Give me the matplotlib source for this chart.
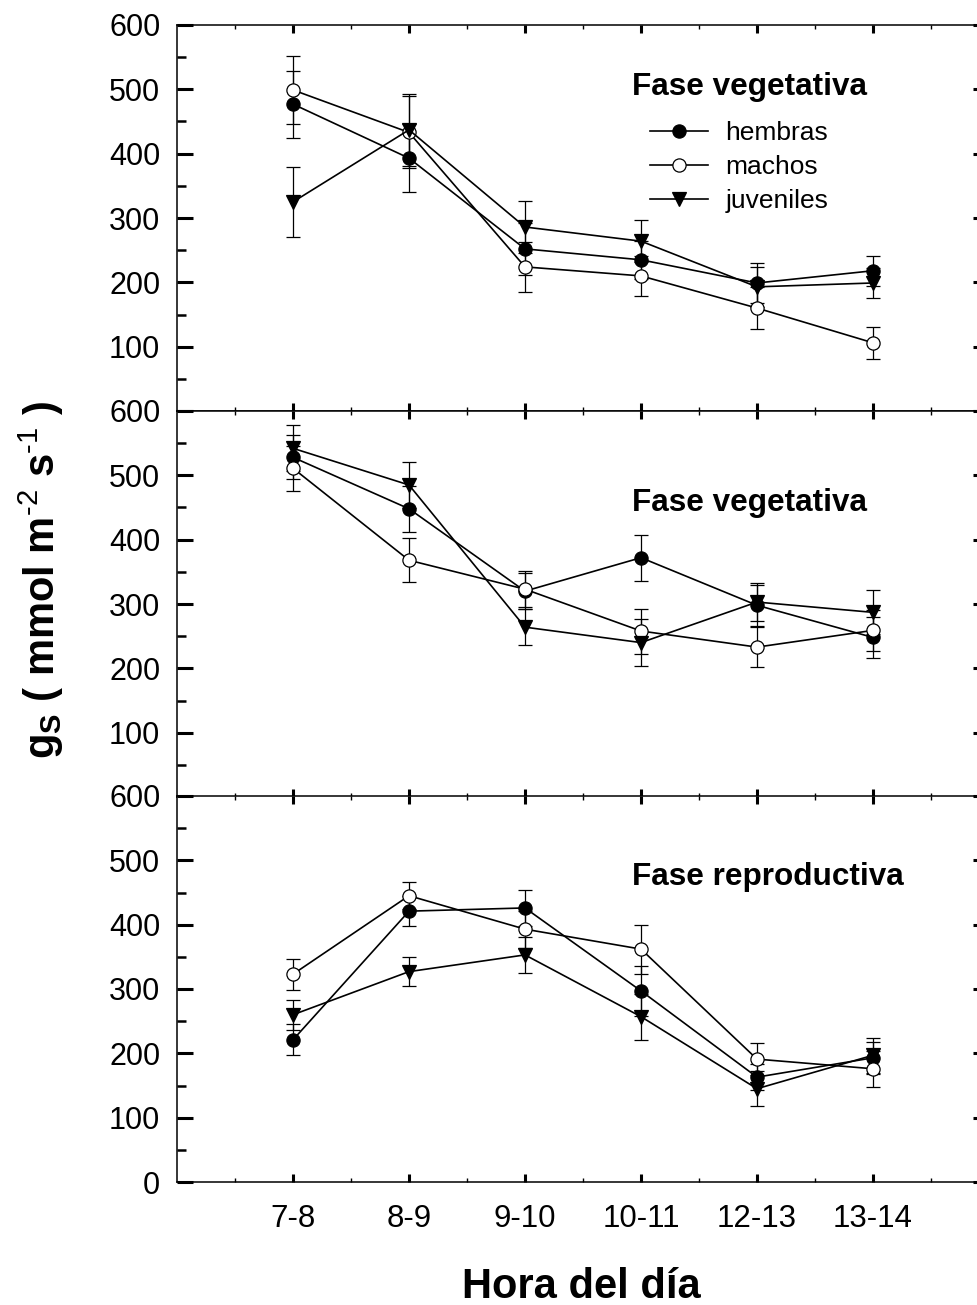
import matplotlib
matplotlib.use("Agg")
import matplotlib.pyplot as plt
from matplotlib.ticker import MultipleLocator, FixedLocator
import numpy as np

plt.rcParams['font.family'] = ['Liberation Sans', 'DejaVu Sans']
plt.rcParams['mathtext.fontset'] = 'custom'
plt.rcParams['mathtext.rm'] = 'Liberation Sans'
plt.rcParams['mathtext.bf'] = 'Liberation Sans:bold'
plt.rcParams['mathtext.default'] = 'bf'

# ---------------- data ----------------
hours = ['7-8', '8-9', '9-10', '10-11', '12-13', '13-14']
series_names = ['hembras', 'machos', 'juveniles']
panel_titles = ['Fase vegetativa', 'Fase vegetativa', 'Fase reproductiva']

# Panel 1 (Fase vegetativa, top)
p1_hembras = [477, 393, 252, 235, 199, 218]
p1_hembras_err = [52, 53, 41, 30, 31, 23]
p1_machos = [499, 433, 224, 210, 160, 106]
p1_machos_err = [53, 56, 39, 31, 33, 25]
p1_juveniles = [325, 437, 286, 264, 193, 199]
p1_juveniles_err = [55, 56, 40, 33, 31, 23]

# Panel 2 (Fase vegetativa, middle)
p2_hembras = [528, 448, 320, 372, 298, 248]
p2_hembras_err = [34, 36, 28, 36, 32, 32]
p2_machos = [511, 368, 323, 258, 233, 259]
p2_machos_err = [35, 34, 28, 35, 31, 32]
p2_juveniles = [542, 485, 264, 240, 303, 287]
p2_juveniles_err = [36, 36, 28, 36, 30, 34]

# Panel 3 (Fase reproductiva, bottom)
p3_hembras = [221, 421, 426, 297, 163, 193]
p3_hembras_err = [24, 23, 28, 39, 20, 25]
p3_machos = [323, 445, 393, 362, 191, 176]
p3_machos_err = [24, 21, 29, 38, 25, 28]
p3_juveniles = [260, 327, 353, 257, 145, 197]
p3_juveniles_err = [23, 22, 28, 36, 27, 27]

panels = [
    [(p1_hembras, p1_hembras_err), (p1_machos, p1_machos_err), (p1_juveniles, p1_juveniles_err)],
    [(p2_hembras, p2_hembras_err), (p2_machos, p2_machos_err), (p2_juveniles, p2_juveniles_err)],
    [(p3_hembras, p3_hembras_err), (p3_machos, p3_machos_err), (p3_juveniles, p3_juveniles_err)],
]
title_y = [491, 445, 462]

styles = [
    dict(marker='o', mfc='black', mec='black'),
    dict(marker='o', mfc='white', mec='black'),
    dict(marker='v', mfc='black', mec='black'),
]

# ---------------- figure ----------------
W, H = 977, 1305
fig = plt.figure(figsize=(W / 100, H / 100), dpi=100)

left = 177 / W
width = 812 / W
tops = [25, 411, 796]
ph = 386

x = np.arange(1, len(hours) + 1)
axes = []
for i, (data, ttl) in enumerate(zip(panels, panel_titles)):
    bottom = 1 - (tops[i] + ph) / H
    ax = fig.add_axes([left, bottom, width, ph / H])
    axes.append(ax)
    handles = []
    for (vals, errs), st, name in zip(data, styles, series_names):
        eb = ax.errorbar(x, vals, yerr=errs, color='black', lw=1.2,
                         elinewidth=0.9, capsize=5, capthick=0.9,
                         marker=st['marker'], ms=9.5, mfc=st['mfc'],
                         mec=st['mec'], mew=0.9, label=name, zorder=3)
        handles.append(eb.lines[0])
    ax.set_xlim(0, 7)
    ax.set_ylim(0, 600)
    ax.xaxis.set_major_locator(FixedLocator(x))
    ax.xaxis.set_minor_locator(FixedLocator(np.arange(0.5, 7, 1.0)))
    ax.yaxis.set_major_locator(MultipleLocator(100))
    ax.yaxis.set_minor_locator(MultipleLocator(50))
    ax.tick_params(axis='both', which='both', direction='in', top=True, right=True)
    ax.tick_params(axis='y', which='major', length=11.5, width=2.2, labelsize=22, pad=12)
    ax.tick_params(axis='y', which='minor', length=6.5, width=1.8)
    ax.tick_params(axis='x', which='major', length=6, width=2.2, labelsize=22.5, pad=16)
    ax.tick_params(axis='x', which='minor', length=3, width=1.0)
    for sp in ax.spines.values():
        sp.set_linewidth(1.1)
    yt = np.arange(0, 700, 100)
    ax.set_yticks(yt)
    if i < 2:
        ax.set_yticklabels(['' if v == 0 else str(v) for v in yt])
        ax.set_xticklabels([])
    else:
        ax.set_yticklabels([str(v) for v in yt])
        ax.set_xticklabels(hours)
    ax.text((632 - 177) / 116, title_y[i], ttl, fontsize=22.7, fontweight='bold',
            ha='left', va='baseline')
    if i == 0:
        ax.legend(handles=handles, labels=series_names, loc='upper left',
                  bbox_to_anchor=(650 / W, 1 - 121 / H), bbox_transform=fig.transFigure,
                  frameon=False, fontsize=19, handlelength=2.2, handletextpad=0.65,
                  labelspacing=0.38, borderpad=0, borderaxespad=0)

fig.text(581 / W, 1 - 1298 / H, 'Hora del día', fontsize=30, fontweight='bold',
         ha='center', va='baseline')
fig.text(41 / W, 1 - 580 / H, r'g$_S$ ( mmol m$^{\text{-2}}$ s$^{\text{-1}}$ )', fontsize=30,
         fontweight='bold', rotation=90, ha='center', va='center')

fig.savefig('out.png', dpi=100)
